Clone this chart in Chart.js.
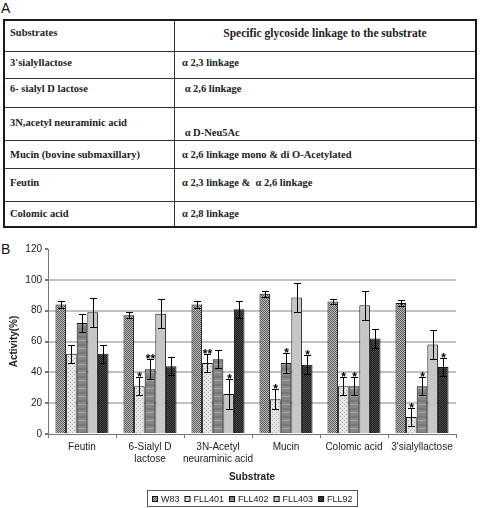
<!DOCTYPE html>
<html lang="en">
<head>
    <meta charset="UTF-8">
    <title>Sialidase activity by substrate</title>
    <script src="https://cdn.jsdelivr.net/npm/chart.js"></script>
    <style>
        body {
            margin: 0;
            padding: 0;
            width: 480px;
            height: 508px;
            background: #fff;
            position: relative;
            overflow: hidden;
            font-family: 'Liberation Sans', Arial, sans-serif;
        }

        .panel-label {
            position: absolute;
            left: 1px;
            font-size: 14px;
            color: #111;
        }

        #tableA {
            position: absolute;
            left: 3px;
            top: 19px;
            width: 474px;
            border-collapse: collapse;
            border: 2px solid #1a1a1a;
            font-family: 'Liberation Serif', 'DejaVu Serif', serif;
            font-weight: bold;
            font-size: 10.5px;
            color: #222;
        }

        #tableA td {
            border: 1px solid #333;
            vertical-align: top;
            padding: 5px 0 0 5px;
            box-sizing: border-box;
        }

        #tableA td.c2 {
            padding-left: 7px;
        }

        #tableA th {
            border: 1px solid #333;
            font-weight: bold;
            vertical-align: top;
            padding: 6px 0 0 5px;
        }

        .chart-box {
            position: absolute;
            left: 0;
            top: 236px;
            width: 480px;
            height: 272px;
        }
    </style>
</head>
<body>
    <div class="panel-label" style="top:0px;">A</div>

    <table id="tableA">
        <tr style="height:31px;">
            <th style="width:164px; text-align:left;">Substrates</th>
            <th style="text-align:center; padding-left:0; font-size:11.5px;">Specific glycoside linkage to the substrate</th>
        </tr>
        <tr style="height:27px;">
            <td>3'sialyllactose</td>
            <td class="c2">α 2,3 linkage</td>
        </tr>
        <tr style="height:29px;">
            <td style="padding-top:4px;">6- sialyl D lactose</td>
            <td class="c2" style="padding-top:4px;">&nbsp;α 2,6 linkage</td>
        </tr>
        <tr style="height:33px;">
            <td style="padding-top:9px;">3N,acetyl neuraminic acid</td>
            <td class="c2" style="padding-top:19px;">&nbsp;α D-Neu5Ac</td>
        </tr>
        <tr style="height:28px;">
            <td style="padding-top:8px;">Mucin (bovine submaxillary)</td>
            <td class="c2" style="padding-top:8px;">α 2,6 linkage mono &amp; di O-Acetylated</td>
        </tr>
        <tr style="height:33px;">
            <td style="padding-top:8px;">Feutin</td>
            <td class="c2" style="padding-top:8px;">α 2,3 linkage &amp;&nbsp; α 2,6 linkage</td>
        </tr>
        <tr style="height:26px;">
            <td style="padding-top:6px;">Colomic acid</td>
            <td class="c2" style="padding-top:6px;">α 2,8 linkage</td>
        </tr>
    </table>

    <div class="panel-label" style="top:241px;">B</div>

    <div class="chart-box">
        <canvas id="activityChart"></canvas>
    </div>

    <script>
        // substrates on the x axis
        const substrates = [
            'Feutin',
            ['6-Sialyl D', 'lactose'],
            ['3N-Acetyl', 'neuraminic acid'],
            'Mucin',
            'Colomic acid',
            "3'sialyllactose"
        ];

        const yTicks = [0, 20, 40, 60, 80, 100, 120];

        // activity (%) per strain, with error bar half-heights and significance marks
        const w83 = [84, 77, 84, 91, 86, 85];
        const w83Err = [2, 2, 2, 2, 1.5, 2];
        const w83Sig = ['', '', '', '', '', ''];

        const fll401 = [52, 31, 46, 22.5, 31, 11];
        const fll401Err = [6, 6, 6, 6.5, 6, 6];
        const fll401Sig = ['', '*', '**', '*', '*', '*'];

        const fll402 = [72, 42, 48.5, 46, 31, 31];
        const fll402Err = [6, 6.5, 6, 6.5, 6, 6];
        const fll402Sig = ['', '**', '', '*', '*', '*'];

        const fll403 = [79, 78, 26, 88.5, 83.5, 58];
        const fll403Err = [9.5, 9.5, 9.5, 9.5, 9.5, 9.5];
        const fll403Sig = ['', '', '*', '', '', ''];

        const fll92 = [52, 44, 81, 45, 62, 43.5];
        const fll92Err = [6, 6, 5.5, 6, 6, 6];
        const fll92Sig = ['', '', '', '*', '', '*'];

        // small tiled fills that imitate the hatched bars of the print
        function makePattern(w, h, paint) {
            const c = document.createElement('canvas');
            c.width = w;
            c.height = h;
            const g = c.getContext('2d');
            paint(g);
            return g.createPattern(c, 'repeat');
        }

        const ctx = document.getElementById('activityChart').getContext('2d');

        const fillW83 = makePattern(4, 4, g => {
            g.fillStyle = '#c0c0c0';
            g.fillRect(0, 0, 4, 4);
            g.fillStyle = '#555';
            for (let i = 0; i < 4; i++) {
                g.fillRect(i, i, 1, 1);
                g.fillRect((i + 2) % 4, i, 1, 1);
            }
        });
        const fill401 = makePattern(4, 4, g => {
            g.fillStyle = '#e6e6e6';
            g.fillRect(0, 0, 4, 4);
            g.fillStyle = '#a8a8a8';
            g.fillRect(0, 0, 1, 1);
            g.fillRect(2, 2, 1, 1);
        });
        const fill402 = makePattern(4, 8, g => {
            g.fillStyle = '#858585';
            g.fillRect(0, 0, 4, 8);
            g.fillStyle = '#a3a3a3';
            g.fillRect(0, 0, 4, 1);
            g.fillStyle = '#787878';
            g.fillRect(0, 4, 4, 2);
        });
        const fill403 = '#c6c6c6';
        const fill92 = makePattern(2, 2, g => {
            g.fillStyle = '#1e1e1e';
            g.fillRect(0, 0, 2, 2);
            g.fillStyle = '#4a4a4a';
            g.fillRect(0, 0, 1, 1);
            g.fillRect(1, 1, 1, 1);
        });

        function series(label, data, err, sig, fill) {
            return {
                label: label,
                data: data,
                errors: err,
                marks: sig,
                backgroundColor: fill,
                borderColor: '#111',
                borderWidth: 1,
                barPercentage: 1,
                categoryPercentage: 0.78
            };
        }

        const errorBars = {
            id: 'errorBars',
            afterDatasetsDraw(chart) {
                const g = chart.ctx;
                const y = chart.scales.y;
                g.save();
                chart.data.datasets.forEach((ds, i) => {
                    const meta = chart.getDatasetMeta(i);
                    meta.data.forEach((bar, j) => {
                        const v = ds.data[j];
                        const e = ds.errors[j];
                        const top = Math.round(y.getPixelForValue(v + e)) + 0.5;
                        const bot = Math.round(y.getPixelForValue(v - e)) + 0.5;
                        const x = Math.round(bar.x) + 0.5;
                        g.strokeStyle = '#000';
                        g.lineWidth = 1;
                        g.beginPath();
                        g.moveTo(x, top);
                        g.lineTo(x, bot);
                        g.moveTo(x - 3.5, top);
                        g.lineTo(x + 3.5, top);
                        g.moveTo(x - 3.5, bot);
                        g.lineTo(x + 3.5, bot);
                        g.stroke();
                        if (ds.marks[j]) {
                            g.fillStyle = '#000';
                            g.font = 'bold 12px "Liberation Sans", Arial, sans-serif';
                            g.textAlign = 'center';
                            g.textBaseline = 'alphabetic';
                            g.fillText(ds.marks[j], x, top + 3);
                        }
                    });
                });
                g.restore();
            }
        };

        // compact framed legend under the axis title, like the original
        const boxedLegend = {
            id: 'boxedLegend',
            afterDraw(chart) {
                const g = chart.ctx;
                const area = chart.chartArea;
                const sets = chart.data.datasets;
                const box = 6, gapText = 3, gapItem = 5, pad = 4;
                g.save();
                g.font = '9px "Liberation Sans", Arial, sans-serif';
                const widths = sets.map(ds => g.measureText(ds.label).width);
                const total = widths.reduce((s, w) => s + box + gapText + w, 0) + gapItem * (sets.length - 1);
                const cy = chart.height - 9;
                let x = Math.round((area.left + area.right) / 2 - total / 2);
                g.strokeStyle = '#555';
                g.lineWidth = 1;
                g.strokeRect(x - pad - 0.5, cy - 8.5, Math.round(total) + pad * 2 + 1, 16);
                g.textBaseline = 'middle';
                g.textAlign = 'left';
                sets.forEach((ds, i) => {
                    g.fillStyle = ds.backgroundColor;
                    g.fillRect(x, cy - box / 2, box, box);
                    g.strokeStyle = '#111';
                    g.strokeRect(x + 0.5, cy - box / 2 + 0.5, box - 1, box - 1);
                    g.fillStyle = '#222';
                    g.fillText(ds.label, x + box + gapText, cy + 0.5);
                    x += box + gapText + widths[i] + gapItem;
                });
                g.restore();
            }
        };

        Chart.defaults.font.family = "'Liberation Sans', Arial, sans-serif";
        Chart.defaults.font.size = 10;
        Chart.defaults.color = '#222';

        new Chart(ctx, {
            type: 'bar',
            data: {
                labels: substrates,
                datasets: [
                    series('W83', w83, w83Err, w83Sig, fillW83),
                    series('FLL401', fll401, fll401Err, fll401Sig, fill401),
                    series('FLL402', fll402, fll402Err, fll402Sig, fill402),
                    series('FLL403', fll403, fll403Err, fll403Sig, fill403),
                    series('FLL92', fll92, fll92Err, fll92Sig, fill92)
                ]
            },
            options: {
                responsive: true,
                maintainAspectRatio: false,
                animation: false,
                layout: {
                    padding: { top: 13, right: 24, bottom: 16, left: 0 }
                },
                plugins: {
                    legend: { display: false },
                    tooltip: { enabled: false }
                },
                scales: {
                    x: {
                        grid: {
                            drawOnChartArea: false,
                            offset: true,
                            tickLength: 4,
                            tickColor: '#777'
                        },
                        border: { color: '#777' },
                        ticks: { padding: 3, maxRotation: 0, autoSkip: false },
                        title: {
                            display: true,
                            text: 'Substrate',
                            font: { weight: 'bold', size: 10 },
                            padding: { top: 4, bottom: 9 }
                        },
                        afterFit(scale) {
                            scale.height = 58;
                        }
                    },
                    y: {
                        min: 0,
                        max: 120,
                        afterBuildTicks(scale) {
                            scale.ticks = yTicks.map(v => ({ value: v }));
                        },
                        grid: {
                            color: c => (c.tick.value === 120 || c.tick.value === 0) ? 'rgba(0,0,0,0)' : '#c2c2c2',
                            lineWidth: 2,
                            tickLength: 3,
                            tickColor: '#777'
                        },
                        border: { color: '#777' },
                        ticks: { padding: 3 },
                        title: {
                            display: true,
                            text: 'Activity(%)',
                            font: { weight: 'bold', size: 10 },
                            padding: { top: 8, bottom: 0 }
                        },
                        afterFit(scale) {
                            scale.width = 48;
                        }
                    }
                }
            },
            plugins: [errorBars, boxedLegend]
        });
    </script>
</body>
</html>
